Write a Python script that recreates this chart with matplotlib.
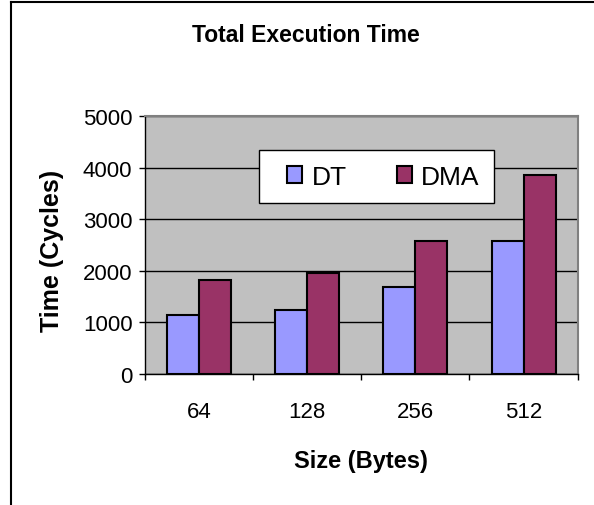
import numpy as np
import matplotlib
matplotlib.use("Agg")
import matplotlib.pyplot as plt
from matplotlib.lines import Line2D
from matplotlib.patches import Rectangle
from matplotlib.container import BarContainer
from matplotlib.legend_handler import HandlerPatch, update_from_first_child

categories = ["64", "128", "256", "512"]
series_names = ["DT", "DMA"]
dt_values = [1150, 1250, 1690, 2580]
dma_values = [1825, 1960, 2580, 3870]
y_ticks = [0, 1000, 2000, 3000, 4000, 5000]

plt.rcParams['font.family'] = ['Liberation Sans', 'DejaVu Sans']

W, H = 594, 506
fig = plt.figure(figsize=(W / 100, H / 100), dpi=100)
ax = fig.add_axes([144.7 / W, 1 - 375 / H, 433 / W, 257.7 / H])
ax.set_facecolor('#C0C0C0')

x = np.arange(len(categories))
bw = 0.295
b1 = ax.bar(x - bw / 2, dt_values, bw, color='#9999FF', edgecolor='black', linewidth=1.5, label=series_names[0], zorder=3)
b2 = ax.bar(x + bw / 2, dma_values, bw, color='#993366', edgecolor='black', linewidth=1.5, label=series_names[1], zorder=3)

ax.set_xlim(-0.5, len(categories) - 0.5)
ax.set_ylim(0, 5000)
ax.set_yticks(y_ticks)
ax.set_yticklabels([str(v) for v in y_ticks], fontsize=16)
ax.yaxis.grid(True, color='black', linewidth=1)
ax.set_axisbelow(True)
ax.tick_params(axis='y', direction='out', length=4.3, width=1, pad=4.5)

ax.set_xticks(x)
ax.set_xticklabels(categories, fontsize=16)
ax.tick_params(axis='x', which='major', length=0, pad=19.5)
ax.set_xticks(np.arange(len(categories) + 1) - 0.5, minor=True)
ax.tick_params(axis='x', which='minor', direction='out', length=4.3, width=1)

for s in ['top', 'right']:
    ax.spines[s].set_color('#808080')
    ax.spines[s].set_linewidth(1.5)
for s in ['left', 'bottom']:
    ax.spines[s].set_color('black')
    ax.spines[s].set_linewidth(1)

ax.set_xlabel('Size (Bytes)', fontsize=17, fontweight='bold', va='center')
ax.xaxis.set_label_coords(0.5, (375 - 462) / 257.7)
ax.set_ylabel('Time (Cycles)', fontsize=18, fontweight='bold', va='center', ha='center')
ax.yaxis.set_label_coords((52 - 144.7) / 433, (375 - 251) / 257.7)

fig.text(306 / W, 1 - 35 / H, 'Total Execution Time', fontsize=16.5, fontweight='bold', ha='center', va='center')

SQ_W, SQ_H = 10.8, 12.0


def sq_patch(legend, orig_handle, xdescent, ydescent, width, height, fontsize):
    return Rectangle((-xdescent + width - SQ_W, -ydescent + (height - SQ_H) / 2), SQ_W, SQ_H)


leg = ax.legend(handles=[b1, b2], loc='center', bbox_to_anchor=(0.5353, 0.7656), ncol=2,
                fontsize=19, handlelength=1.1, handleheight=0.7, handletextpad=0.34,
                borderpad=0.55, columnspacing=1.38, fancybox=False, shadow=False,
                framealpha=1, edgecolor='black', facecolor='white',
                handler_map={BarContainer: HandlerPatch(patch_func=sq_patch, update_func=update_from_first_child)})
leg.get_frame().set_linewidth(1)

fig.add_artist(Line2D([11 / W, 11 / W], [0, 1 - 3 / H], color='black', linewidth=1.5, transform=fig.transFigure))
fig.add_artist(Line2D([11 / W, 1], [1 - 3 / H, 1 - 3 / H], color='black', linewidth=1.5, transform=fig.transFigure))

fig.savefig('out.png', dpi=100)
